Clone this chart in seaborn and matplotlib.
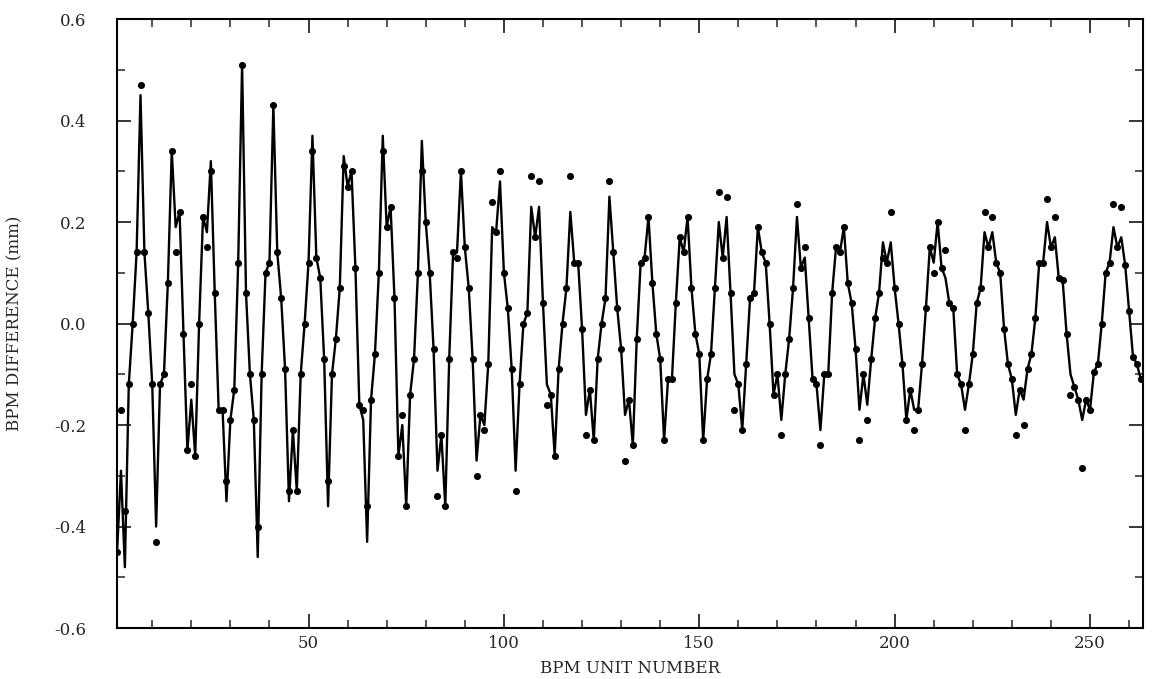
import numpy as np
import pandas as pd
import matplotlib
matplotlib.use("Agg")
import matplotlib.pyplot as plt
import seaborn as sns
from matplotlib.ticker import MultipleLocator

# BPM difference readings, one per unit 1..263 (mm)
fit_mm = [
    -0.45, -0.29, -0.48, -0.12, 0.00, 0.14, 0.45, 0.14, 0.02, -0.12,
    -0.40, -0.12, -0.10, 0.08, 0.34, 0.19, 0.22, -0.02, -0.25, -0.15,
    -0.26, 0.00, 0.21, 0.18, 0.32, 0.06, -0.17, -0.17, -0.35, -0.19,
    -0.13, 0.12, 0.51, 0.06, -0.10, -0.19, -0.46, -0.10, 0.10, 0.12,
    0.43, 0.14, 0.05, -0.09, -0.35, -0.21, -0.33, -0.10, 0.00, 0.12,
    0.37, 0.13, 0.09, -0.07, -0.36, -0.10, -0.03, 0.07, 0.33, 0.27,
    0.30, 0.11, -0.16, -0.19, -0.43, -0.15, -0.06, 0.10, 0.37, 0.19,
    0.23, 0.05, -0.26, -0.20, -0.36, -0.14, -0.07, 0.10, 0.36, 0.20,
    0.10, -0.05, -0.29, -0.22, -0.36, -0.07, 0.14, 0.14, 0.30, 0.15,
    0.07, -0.07, -0.27, -0.18, -0.20, -0.08, 0.19, 0.18, 0.28, 0.10,
    0.03, -0.09, -0.29, -0.12, 0.00, 0.02, 0.23, 0.17, 0.23, 0.04,
    -0.12, -0.14, -0.26, -0.09, 0.00, 0.07, 0.22, 0.12, 0.12, -0.01,
    -0.18, -0.13, -0.23, -0.07, 0.00, 0.05, 0.25, 0.14, 0.03, -0.05,
    -0.18, -0.15, -0.24, -0.03, 0.12, 0.13, 0.21, 0.08, -0.02, -0.07,
    -0.23, -0.11, -0.11, 0.04, 0.17, 0.14, 0.21, 0.07, -0.02, -0.06,
    -0.23, -0.11, -0.06, 0.07, 0.20, 0.13, 0.21, 0.06, -0.10, -0.12,
    -0.21, -0.08, 0.05, 0.06, 0.19, 0.14, 0.12, 0.00, -0.14, -0.10,
    -0.19, -0.10, -0.03, 0.07, 0.21, 0.11, 0.13, 0.01, -0.11, -0.12,
    -0.21, -0.10, -0.10, 0.06, 0.15, 0.14, 0.19, 0.08, 0.04, -0.05,
    -0.17, -0.10, -0.16, -0.07, 0.01, 0.06, 0.16, 0.12, 0.16, 0.07,
    0.00, -0.08, -0.19, -0.13, -0.17, -0.17, -0.08, 0.03, 0.15, 0.12,
    0.20, 0.11, 0.09, 0.04, 0.03, -0.10, -0.12, -0.17, -0.12, -0.06,
    0.04, 0.07, 0.18, 0.15, 0.18, 0.12, 0.10, -0.01, -0.08, -0.11,
    -0.18, -0.13, -0.15, -0.09, -0.06, 0.01, 0.12, 0.12, 0.20, 0.15,
    0.17, 0.09, 0.085, -0.02, -0.10, -0.125, -0.15, -0.19, -0.15, -0.17,
    -0.095, -0.08, 0.00, 0.10, 0.12, 0.19, 0.15, 0.17, 0.115, 0.025,
    -0.065, -0.08, -0.11,
]

# measured points that sit off the line
off_units = [2, 3, 7, 11, 16, 20, 24, 25, 29, 37, 45, 51, 55, 59, 64, 65, 69, 74,
             79, 83, 88, 93, 95, 97, 99, 103, 107, 109, 111, 117, 121, 127, 131,
             155, 157, 159, 171, 175, 177, 181, 191, 193, 197, 199, 205, 210, 213,
             218, 223, 225, 231, 233, 239, 241, 245, 248, 256, 258]
off_mm = [-0.17, -0.37, 0.47, -0.43, 0.14, -0.12, 0.15, 0.30, -0.31, -0.40, -0.33,
          0.34, -0.31, 0.31, -0.17, -0.36, 0.34, -0.18, 0.30, -0.34, 0.13, -0.30,
          -0.21, 0.24, 0.30, -0.33, 0.29, 0.28, -0.16, 0.29, -0.22, 0.28, -0.27,
          0.26, 0.25, -0.17, -0.22, 0.235, 0.15, -0.24, -0.23, -0.19, 0.13, 0.22,
          -0.21, 0.10, 0.145, -0.21, 0.22, 0.21, -0.22, -0.20, 0.245, 0.21, -0.14,
          -0.285, 0.235, 0.23]

units = np.arange(1, len(fit_mm) + 1)
df = pd.DataFrame({"unit": units, "fit": fit_mm})
df["meas"] = df["fit"]
df.loc[df["unit"].isin(off_units), "meas"] = pd.Series(off_mm, index=np.array(off_units) - 1)

sns.set_style("ticks")
plt.rcParams["font.family"] = ["DejaVu Serif"]
plt.rcParams["axes.unicode_minus"] = False

fig = plt.figure(figsize=(11.59, 6.79), dpi=100)
ax = fig.add_axes([0.101, 0.075, 0.885, 0.897])

sns.lineplot(data=df, x="unit", y="fit", color="black", linewidth=1.7, ax=ax)
sns.scatterplot(data=df, x="unit", y="meas", color="black", s=26, edgecolor="black",
                linewidth=0, ax=ax, zorder=3)

ax.set_xlim(1, 263.5)
ax.set_ylim(-0.6, 0.6)
ax.xaxis.set_major_locator(MultipleLocator(50))
ax.xaxis.set_minor_locator(MultipleLocator(10))
ax.yaxis.set_major_locator(MultipleLocator(0.2))
ax.yaxis.set_minor_locator(MultipleLocator(0.1))
ax.yaxis.set_major_formatter(plt.FuncFormatter(lambda v, _: f"{v:.1f}".replace("-0.0", "0.0")))
ax.tick_params(which="both", direction="in", top=True, right=True, labelsize=12)
ax.tick_params(which="major", length=10, width=1.3)
ax.tick_params(which="minor", length=6, width=1.1)
ax.tick_params(axis="y", which="major", pad=22)
ax.tick_params(axis="x", which="major", pad=5)
for s in ax.spines.values():
    s.set_linewidth(1.5)
    s.set_color("black")

ax.set_xlabel("BPM UNIT NUMBER", fontsize=12, labelpad=6)
ax.set_ylabel("BPM DIFFERENCE (mm)", fontsize=12, labelpad=22)

fig.savefig("out.png", dpi=100)
